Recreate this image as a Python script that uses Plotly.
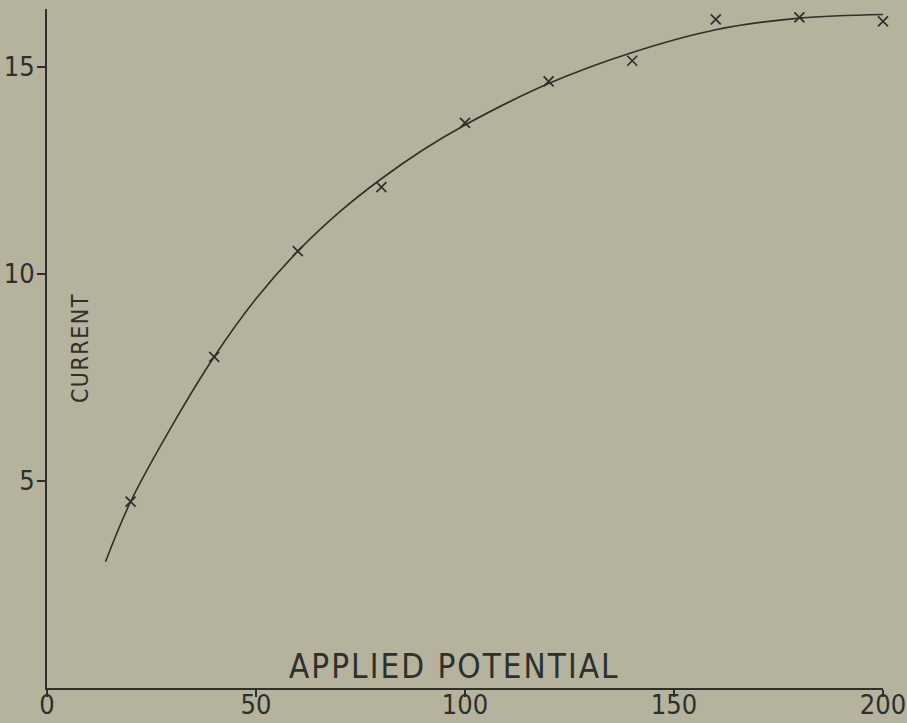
import plotly.graph_objects as go

# Measured points (applied potential, current)
potential = [20, 40, 60, 80, 100, 120, 140, 160, 180, 200]
current = [4.5, 8.0, 10.55, 12.1, 13.65, 14.65, 15.15, 16.15, 16.2, 16.1]

# Smooth curve drawn through the points
curve_x = [14, 20, 30, 40, 50, 60, 70, 80, 90, 100, 120, 140, 160, 180, 202]
curve_y = [3.05, 4.5, 6.35, 8.0, 9.4, 10.55, 11.5, 12.3, 13.0, 13.6, 14.6, 15.35, 15.9, 16.18, 16.27]

x_ticks = [0, 50, 100, 150, 200]
y_ticks = [5, 10, 15]

paper = "#b5b39e"
ink = "#2f2f2b"
label_font = "DejaVu Sans Condensed, DejaVu Sans, sans-serif"
tick_font = "DejaVu Sans Condensed, DejaVu Sans, sans-serif"

fig = go.Figure()
fig.add_trace(go.Scatter(
    x=curve_x, y=curve_y, mode="lines",
    line=dict(color=ink, width=1.6, shape="spline", smoothing=1.0),
    hoverinfo="skip", showlegend=False, cliponaxis=False,
))
fig.add_trace(go.Scatter(
    x=potential, y=current, mode="markers",
    marker=dict(symbol="x-thin", size=10, line=dict(color=ink, width=1.7)),
    showlegend=False, cliponaxis=False,
))

fig.update_layout(
    width=907, height=723,
    margin=dict(l=47, r=24, t=9, b=35),
    paper_bgcolor=paper, plot_bgcolor=paper,
    font=dict(family=label_font, color=ink),
    xaxis=dict(
        range=[0, 200], tickvals=x_ticks, ticktext=[str(v) for v in x_ticks],
        showgrid=False, zeroline=False, showline=True, linecolor=ink, linewidth=2,
        ticks="outside", ticklen=7, tickwidth=1.5, tickcolor=ink, automargin=False,
        ticklabelstandoff=-15, ticklabeloverflow="allow",
        tickfont=dict(size=27, color=ink, family=tick_font),
    ),
    yaxis=dict(
        range=[0, 16.4], tickvals=y_ticks, ticktext=[str(v) for v in y_ticks],
        showgrid=False, zeroline=False, showline=True, linecolor=ink, linewidth=2,
        ticks="outside", ticklen=8, tickwidth=1.5, tickcolor=ink, automargin=False,
        ticklabelstandoff=-3, ticklabeloverflow="allow",
        tickfont=dict(size=27, color=ink, family=tick_font),
    ),
    annotations=[
        dict(text='<span style="letter-spacing:2px">APPLIED POTENTIAL</span>',
             x=0.488, y=0.031, xref="paper", yref="paper",
             xanchor="center", yanchor="middle",
             showarrow=False, font=dict(size=33, color=ink, family=label_font)),
        dict(text='<span style="letter-spacing:1.5px">CURRENT</span>',
             x=0.039, y=0.5, xref="paper", yref="paper",
             xanchor="center", yanchor="middle",
             textangle=-90, showarrow=False,
             font=dict(size=23, color=ink, family=label_font)),
    ],
)

fig.write_html("out.html", config={"displayModeBar": False},
               post_script="document.body.style.margin='0';")
